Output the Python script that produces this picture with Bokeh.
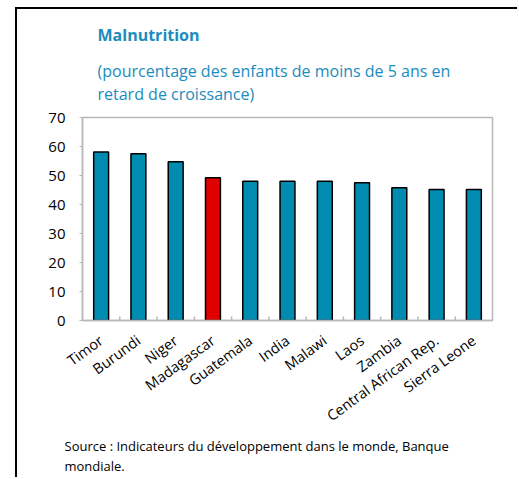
from bokeh.plotting import figure
from bokeh.models import Range1d, FixedTicker, Title
from bokeh.embed import file_html
from bokeh.resources import INLINE

countries = ["Timor", "Burundi", "Niger", "Madagascar", "Guatemala", "India",
             "Malawi", "Laos", "Zambia", "Central African Rep.", "Sierra Leone"]
values = [58.1, 57.5, 54.7, 49.2, 48.0, 48.0, 48.0, 47.5, 45.8, 45.2, 45.2]
highlight = "Madagascar"
y_ticks = [0, 10, 20, 30, 40, 50, 60, 70]

title = "Malnutrition"
subtitle = ["(pourcentage des enfants de moins de 5 ans en", "retard de croissance)"]
source = ["Source : Indicateurs du développement dans le monde, Banque", "mondiale."]

FONT = "Open Sans"
BLUE = "#008bb0"
RED = "#e00000"
TITLE_BLUE = "#1a8cbd"

W, H = 502, 470

n = len(countries)
centers = [i + 0.5 for i in range(n)]
colors = [RED if c == highlight else BLUE for c in countries]

p = figure(width=W, height=H, output_backend="svg", toolbar_location=None,
           x_range=Range1d(0, n), y_range=Range1d(0, 70),
           min_border_left=65, min_border_right=27, min_border_top=108,
           min_border_bottom=159)
p.styles = {"border-left": "2px solid black", "border-top": "2px solid black",
            "position": "relative", "left": "15px", "top": "7px"}
p.background_fill_color = "white"
p.border_fill_color = "white"
p.outline_line_color = "#b8b8b8"
p.outline_line_width = 1.5
p.xgrid.visible = False
p.ygrid.visible = False

p.vbar(x=centers, top=values, bottom=0, width=0.4, fill_color=colors,
       line_color="black", line_width=1.5)

# category separator ticks
bounds = list(range(1, n))
p.segment(x0=bounds, x1=bounds, y0=[0] * len(bounds), y1=[1.4] * len(bounds),
          line_color="#b8b8b8", line_width=1.5)

xa = p.xaxis[0]
xa.ticker = FixedTicker(ticks=centers)
xa.major_label_overrides = {c: name for c, name in zip(centers, countries)}
xa.major_label_orientation = 0.63
xa.major_tick_line_color = None
xa.minor_tick_line_color = None
xa.axis_line_color = "#b8b8b8"
xa.axis_line_width = 1.5
xa.major_label_text_font = FONT
xa.major_label_text_font_size = "14.5px"
xa.major_label_text_color = "black"
xa.major_label_standoff = 12

ya = p.yaxis[0]
ya.ticker = FixedTicker(ticks=y_ticks)
ya.axis_line_color = "#b8b8b8"
ya.axis_line_width = 1.5
ya.major_tick_line_color = "#b8b8b8"
ya.major_tick_out = 3
ya.major_tick_in = 0
ya.minor_tick_line_color = None
ya.major_label_text_font = FONT
ya.major_label_text_font_size = "15px"
ya.major_label_text_color = "black"
ya.major_label_standoff = 14

# titles above the frame (later additions sit farther from the frame)
p.add_layout(Title(text="\n".join(subtitle), align="left", offset=15,
                   text_font=FONT, text_font_size="16px",
                   text_font_style="normal", text_color=TITLE_BLUE,
                   text_line_height=1.05, standoff=25), "above")
p.add_layout(Title(text=title, align="left", offset=15,
                   text_font=FONT, text_font_size="16px",
                   text_font_style="bold", text_color=TITLE_BLUE,
                   standoff=0), "above")

# source below the axis
p.add_layout(Title(text="\n".join(source), align="left", offset=-18,
                   text_font=FONT, text_font_size="13px",
                   text_font_style="normal", text_color="black",
                   text_line_height=1.12, standoff=0), "below")

open("out.html", "w").write(file_html(p, INLINE))
